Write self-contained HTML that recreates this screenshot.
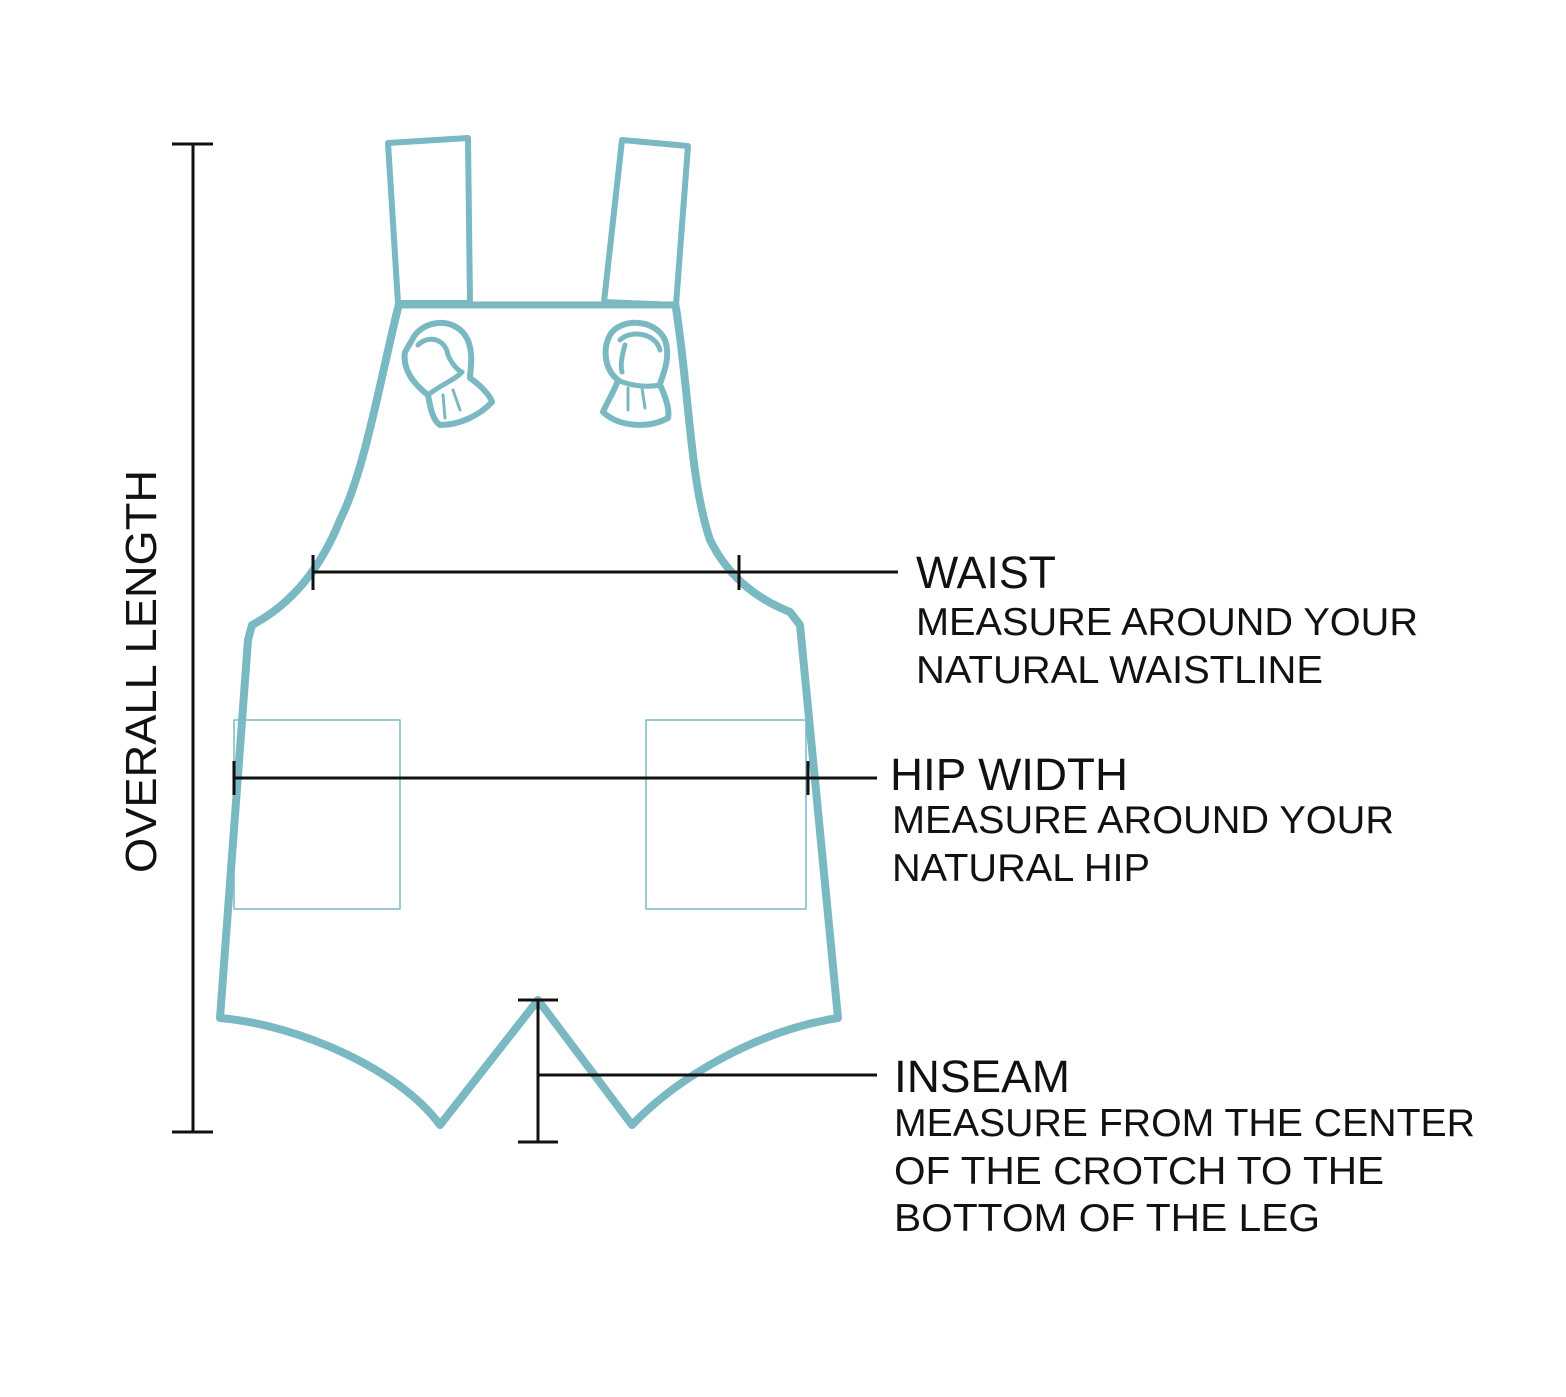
<!DOCTYPE html>
<html><head><meta charset="utf-8"><style>
html,body{margin:0;padding:0;background:#fff}
svg{display:block}
text{font-family:"Liberation Sans",sans-serif;fill:#111}
</style></head><body>
<svg width="1566" height="1397" viewBox="0 0 1566 1397" xmlns="http://www.w3.org/2000/svg">
<g fill="none" stroke="#7ab8c2" stroke-linejoin="round" stroke-linecap="round">
 <path d="M388,143 L468,138 L470,303 L398,303 Z" stroke-width="6"/>
 <path d="M622,140 L688,146 L676,305 L604,302 Z" stroke-width="6"/>
 <path d="M398,305 L676,305" stroke-width="7"/>
 <path d="M398,308 C380,380 365,470 340,520 C320,570 290,605 252,625 L248,640 L220,1018 C300,1025 400,1070 440,1125 L538,1000 L632,1125 C680,1075 760,1030 838,1018 L800,625 L790,612 C760,600 730,580 710,540 C690,480 690,400 676,308" stroke-width="8"/>
 <rect x="234" y="720" width="166" height="189" stroke-width="1.5"/>
 <rect x="646" y="720" width="160" height="189" stroke-width="1.5"/>
 <!-- left knot -->
 <path d="M412,340 C420,322 450,315 465,335 C475,350 470,370 470,378 C480,385 490,395 492,402 C480,415 460,425 440,425 C432,420 430,405 428,395 C415,385 402,370 405,352 Z" stroke-width="6"/>
 <path d="M428,395 C440,385 455,380 462,372" stroke-width="5"/>
 <path d="M418,345 C428,335 445,338 448,355 C452,365 460,372 462,372" stroke-width="5"/>
 <path d="M443,395 L445,418 M453,390 L460,410" stroke-width="3"/>
 <!-- right knot -->
 <path d="M610,335 C620,318 655,318 665,340 C672,360 660,380 660,385 C665,395 670,410 668,418 C650,428 620,428 603,412 C608,400 615,390 618,380 C605,370 602,350 610,335 Z" stroke-width="6"/>
 <path d="M618,380 C628,385 645,388 660,385" stroke-width="5"/>
 <path d="M620,340 C630,330 655,332 660,350 M625,345 C622,355 620,365 622,372" stroke-width="5"/>
 <path d="M628,388 L628,410 M642,388 L645,408" stroke-width="3"/>
</g>
<g stroke="#111" stroke-width="3" fill="none">
 <path d="M193,144 V1132 M172,144 H213 M172,1132 H213"/>
 <path d="M313,572 H898 M313,555 V590 M739,555 V590"/>
 <path d="M234,778 H877 M234,761 V795 M808,761 V795"/>
 <path d="M538,1000 V1142 M518,1000 H558 M518,1142 H558 M538,1075 H877"/>
</g>
<text x="0" y="0" font-size="44" transform="translate(156,873) rotate(-90)" textLength="403" lengthAdjust="spacingAndGlyphs">OVERALL LENGTH</text>
<text x="916" y="588" font-size="45" textLength="140" lengthAdjust="spacingAndGlyphs">WAIST</text>
<text x="916" y="635" font-size="39" textLength="502" lengthAdjust="spacingAndGlyphs">MEASURE AROUND YOUR</text>
<text x="916" y="683" font-size="39" textLength="407" lengthAdjust="spacingAndGlyphs">NATURAL WAISTLINE</text>
<text x="890" y="790" font-size="45" textLength="238" lengthAdjust="spacingAndGlyphs">HIP WIDTH</text>
<text x="892" y="833" font-size="39" textLength="502" lengthAdjust="spacingAndGlyphs">MEASURE AROUND YOUR</text>
<text x="892" y="881" font-size="39" textLength="258" lengthAdjust="spacingAndGlyphs">NATURAL HIP</text>
<text x="894" y="1092" font-size="45" textLength="176" lengthAdjust="spacingAndGlyphs">INSEAM</text>
<text x="894" y="1136" font-size="39" textLength="581" lengthAdjust="spacingAndGlyphs">MEASURE FROM THE CENTER</text>
<text x="894" y="1184" font-size="39" textLength="490" lengthAdjust="spacingAndGlyphs">OF THE CROTCH TO THE</text>
<text x="894" y="1231" font-size="39" textLength="426" lengthAdjust="spacingAndGlyphs">BOTTOM OF THE LEG</text>
</svg>
</body></html>
